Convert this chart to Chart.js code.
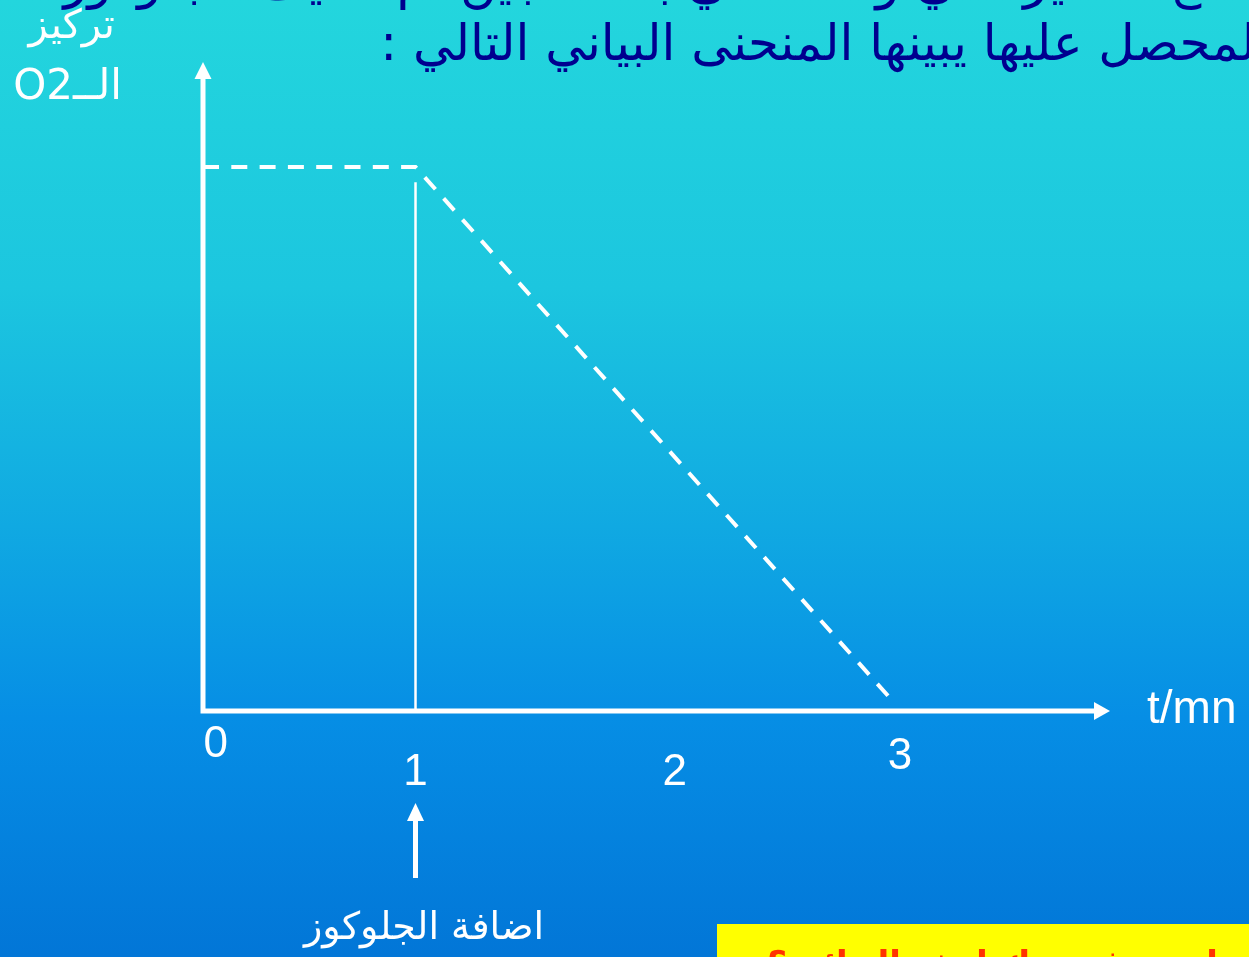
<!DOCTYPE html>
<html>
<head>
<meta charset="utf-8">
<script src="https://cdn.jsdelivr.net/npm/chart.js@4.4.1/dist/chart.umd.min.js"></script>
<style>
  html, body { margin: 0; padding: 0; overflow: hidden; }
  body {
    width: 1249px; height: 957px;
    background: linear-gradient(to bottom, #23d6dd 0%, #1cc6df 30%, #10a9e2 55%, #068ee5 75%, #0276d7 100%);
  }
  canvas { display: block; }
</style>
</head>
<body>
<canvas id="o2Chart" width="1249" height="957"></canvas>
<script>
// time (mn) and O2 concentration (arbitrary units)
const timeMin = [0, 1, 3.26];
const o2Level = [10, 10, 0.12];

// glucose addition marker
const glucoseTime = [1, 1];
const glucoseLine = [0, 9.72];

// tick labels and where they sit (data units along x, px below the axis)
const tickLabels = ['0', '1', '2', '3'];
const tickAt = [0.06, 1.0, 2.22, 3.28];
const tickDrop = [46, 74, 74, 58];

const titleLine1 = 'نضع الخميرة في وسط غني بالأكسجين ثم نضيف الجلوكوز فكانت النتائج ا';
const titleLine2 = 'لمحصل عليها يبينها المنحنى البياني التالي :';
const yTitle1 = 'تركيز';
const yTitle2 = 'الــO2';
const xTitle = 't/mn';
const glucoseNote = 'اضافة الجلوكوز';
const questionText = 'ما هو تفسيرك لهذه النتائج ؟';

const decor = {
  id: 'decor',
  afterDatasetsDraw(chart) {
    const { ctx, chartArea: a, scales: { x, y } } = chart;
    const x0 = x.getPixelForValue(0);
    const y0 = y.getPixelForValue(0);
    ctx.save();
    ctx.strokeStyle = '#fff';
    ctx.fillStyle = '#fff';

    // axes
    ctx.lineWidth = 5;
    ctx.lineJoin = 'miter';
    ctx.beginPath();
    ctx.moveTo(x0, a.top + 14);
    ctx.lineTo(x0, y0);
    ctx.lineTo(a.right - 14, y0);
    ctx.stroke();
    // arrow heads
    ctx.beginPath();
    ctx.moveTo(x0, a.top);
    ctx.lineTo(x0 - 8.5, a.top + 17);
    ctx.lineTo(x0 + 8.5, a.top + 17);
    ctx.closePath();
    ctx.fill();
    ctx.beginPath();
    ctx.moveTo(a.right, y0);
    ctx.lineTo(a.right - 16, y0 - 9);
    ctx.lineTo(a.right - 16, y0 + 9);
    ctx.closePath();
    ctx.fill();

    // tick labels
    ctx.font = '44px "Liberation Sans", Arial, sans-serif';
    ctx.textAlign = 'center';
    tickLabels.forEach((t, i) => {
      ctx.fillText(t, x.getPixelForValue(tickAt[i]), y0 + tickDrop[i]);
    });

    // x title
    ctx.textAlign = 'left';
    ctx.font = '46px "Liberation Sans", Arial, sans-serif';
    ctx.fillText(xTitle, 1147, 723);

    // y title
    ctx.direction = 'rtl';
    ctx.textAlign = 'right';
    ctx.font = '40px "DejaVu Sans", sans-serif';
    ctx.fillText(yTitle1, 115, 38);
    ctx.font = '42px "DejaVu Sans", "Liberation Sans", sans-serif';
    ctx.fillText(yTitle2, 122, 99);

    // glucose arrow
    const gx = x.getPixelForValue(1);
    ctx.lineWidth = 5;
    ctx.beginPath();
    ctx.moveTo(gx, 818);
    ctx.lineTo(gx, 878);
    ctx.stroke();
    ctx.beginPath();
    ctx.moveTo(gx, 803);
    ctx.lineTo(gx - 8.5, 821);
    ctx.lineTo(gx + 8.5, 821);
    ctx.closePath();
    ctx.fill();
    ctx.textAlign = 'center';
    ctx.font = '38px "DejaVu Sans", sans-serif';
    ctx.fillText(glucoseNote, 424, 939);

    // heading
    ctx.fillStyle = '#00008f';
    ctx.textAlign = 'right';
    ctx.font = '50px "DejaVu Sans", sans-serif';
    ctx.fillText(titleLine1, 1256, -2);
    ctx.fillText(titleLine2, 1256, 60);

    // question box
    ctx.fillStyle = '#ffff00';
    ctx.fillRect(717, 924, 540, 40);
    ctx.beginPath();
    ctx.rect(717, 924, 540, 40);
    ctx.clip();
    ctx.fillStyle = '#ff3300';
    ctx.font = 'bold 34px "DejaVu Sans", sans-serif';
    ctx.fillText(questionText, 1240, 975);
    ctx.restore();
  }
};

new Chart(document.getElementById('o2Chart'), {
  type: 'line',
  data: {
    datasets: [
      {
        data: timeMin.map((t, i) => ({ x: t, y: o2Level[i] })),
        borderColor: '#fff',
        borderWidth: 4,
        borderDash: [16, 12.3],
        pointRadius: 0,
        tension: 0,
        fill: false
      },
      {
        data: glucoseTime.map((t, i) => ({ x: t, y: glucoseLine[i] })),
        borderColor: '#fff',
        borderWidth: 2.5,
        pointRadius: 0,
        fill: false
      }
    ]
  },
  options: {
    responsive: false,
    devicePixelRatio: 1,
    animation: false,
    layout: { padding: { left: 203, right: 139, top: 62, bottom: 246 } },
    plugins: { legend: { display: false }, tooltip: { enabled: false } },
    scales: {
      x: { type: 'linear', min: 0, max: 4.268, display: false },
      y: { min: 0, max: 11.93, display: false }
    }
  },
  plugins: [decor]
});
</script>
</body>
</html>
